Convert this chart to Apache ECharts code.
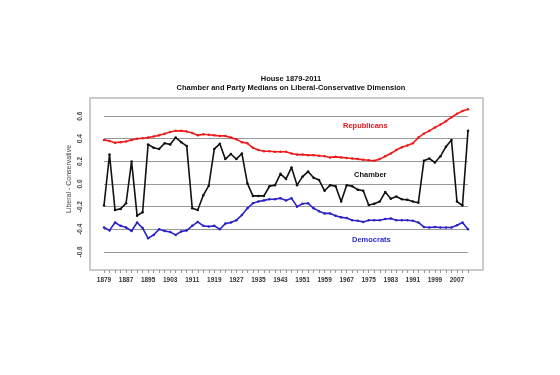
<!DOCTYPE html>
<html>
<head>
<meta charset="utf-8">
<script src="https://cdn.jsdelivr.net/npm/echarts@6/dist/echarts.min.js"></script>
<style>
    html, body { margin: 0; padding: 0; background: #fff; }
    #chart { width: 560px; height: 375px; }
</style>
</head>
<body>
<div id="chart"></div>
<script>
// Congress start years, one per two-year term
const years = []
for (let y = 1879; y <= 2011; y += 2) years.push(String(y))

const yearLabels = ['1879', '1887', '1895', '1903', '1911', '1919', '1927', '1935', '1943',
    '1951', '1959', '1967', '1975', '1983', '1991', '1999', '2007']
const valueTicks = [-0.6, -0.4, -0.2, 0, 0.2, 0.4, 0.6]

const republicans = [
    0.39, 0.38, 0.365, 0.37, 0.375, 0.39, 0.40, 0.405, 0.41, 0.42,
    0.43, 0.445, 0.46, 0.47, 0.47, 0.465, 0.45, 0.43, 0.44, 0.435,
    0.43, 0.425, 0.425, 0.41, 0.395, 0.37, 0.36, 0.32, 0.30, 0.29,
    0.29, 0.285, 0.285, 0.285, 0.27, 0.26, 0.26, 0.255, 0.255, 0.25,
    0.245, 0.235, 0.24, 0.235, 0.23, 0.225, 0.22, 0.215, 0.21, 0.205,
    0.22, 0.245, 0.27, 0.30, 0.325, 0.34, 0.36, 0.41, 0.445, 0.47,
    0.50, 0.525, 0.555, 0.59, 0.62, 0.645, 0.66
]
const chamber = [
    -0.19, 0.26, -0.23, -0.22, -0.17, 0.20, -0.28, -0.25, 0.35, 0.32,
    0.31, 0.36, 0.35, 0.41, 0.37, 0.335, -0.215, -0.23, -0.10, -0.015,
    0.31, 0.355, 0.22, 0.265, 0.22, 0.27, 0.005, -0.105, -0.105, -0.105,
    -0.02, -0.01, 0.09, 0.045, 0.145, -0.01, 0.065, 0.11, 0.055, 0.035,
    -0.06, -0.01, -0.02, -0.155, -0.01, -0.02, -0.05, -0.06, -0.185, -0.175,
    -0.155, -0.07, -0.13, -0.11, -0.135, -0.14, -0.155, -0.165, 0.205, 0.225,
    0.19, 0.245, 0.33, 0.39, -0.155, -0.19, 0.47
]
const democrats = [
    -0.385, -0.41, -0.34, -0.37, -0.385, -0.415, -0.34, -0.39, -0.48, -0.45,
    -0.40, -0.415, -0.425, -0.45, -0.42, -0.41, -0.37, -0.335, -0.37, -0.375,
    -0.37, -0.40, -0.35, -0.34, -0.32, -0.275, -0.215, -0.17, -0.155, -0.145,
    -0.135, -0.135, -0.125, -0.145, -0.125, -0.20, -0.175, -0.17, -0.215, -0.24,
    -0.26, -0.26, -0.28, -0.295, -0.30, -0.32, -0.325, -0.335, -0.32, -0.32,
    -0.32, -0.31, -0.305, -0.32, -0.32, -0.32, -0.325, -0.34, -0.38, -0.385,
    -0.38, -0.385, -0.385, -0.385, -0.365, -0.34, -0.40
]

const font = 'Liberation Sans, Arial, sans-serif'

function line(name, data, color) {
    return {
        name: name,
        type: 'line',
        data: data,
        symbol: 'circle',
        symbolSize: 2.5,
        lineStyle: { color: color, width: 1.6 },
        itemStyle: { color: color },
        silent: true,
    }
}

function yLabel(v) {
    const n = Number(v)
    for (const t of valueTicks) {
        if (Math.abs(t - n) < 1e-6) return t.toFixed(1)
    }
    return ''
}

// axis runs -0.8..0.8, the outer lines (at +-0.8) sit outside the frame, so hide them
const gridColors = ['rgba(0,0,0,0)', '#999', '#999', '#999', '#999', '#999', '#999', '#999', 'rgba(0,0,0,0)']

const chart = echarts.init(document.getElementById('chart'))
chart.setOption({
    backgroundColor: '#fff',
    animation: false,
    textStyle: { fontFamily: font },
    title: {
        text: 'House 1879-2011',
        subtext: 'Chamber and Party Medians on Liberal-Conservative Dimension',
        left: 286,
        top: 70,
        textAlign: 'center',
        itemGap: 1,
        textStyle: { fontSize: 7.5, fontWeight: 'bold', color: '#111', fontFamily: font },
        subtextStyle: { fontSize: 7.5, fontWeight: 'bold', color: '#111', fontFamily: font },
    },
    grid: { left: 104, right: 92, top: 93.5, bottom: 100.5 },
    xAxis: {
        type: 'category',
        data: years,
        boundaryGap: false,
        offset: -4.5,
        axisLine: { show: false, onZero: false },
        axisTick: {
            show: true,
            interval: 0,
            length: 3,
            lineStyle: { color: '#999' },
        },
        axisLabel: {
            interval: (i, v) => yearLabels.includes(v),
            margin: 7,
            fontSize: 6.5,
            fontWeight: 'bold',
            color: '#333',
        },
    },
    yAxis: {
        type: 'value',
        min: -0.8,
        max: 0.8,
        interval: 0.2,
        axisLine: { show: false },
        axisTick: { show: false },
        axisLabel: {
            show: true,
            rotate: 90,
            margin: 20,
            fontSize: 6.5,
            fontWeight: 'bold',
            color: '#444',
            formatter: yLabel,
        },
        splitLine: { lineStyle: { color: gridColors, width: 1 } },
    },
    graphic: [
        {
            type: 'rect',
            shape: { x: 90, y: 98, width: 393, height: 172 },
            style: { fill: null, stroke: '#bbb', lineWidth: 1.5 },
            silent: true,
        },
        {
            type: 'text', x: 69, y: 179, rotation: Math.PI / 2,
            style: {
                text: 'Liberal - Conservative', fill: '#444', font: '7px ' + font,
                align: 'center', verticalAlign: 'middle',
            },
        },
        {
            type: 'text', left: 343, top: 122,
            style: { text: 'Republicans', fill: '#e8151b', font: 'bold 7.5px ' + font },
        },
        {
            type: 'text', left: 354, top: 171,
            style: { text: 'Chamber', fill: '#111', font: 'bold 7.5px ' + font },
        },
        {
            type: 'text', left: 352, top: 236,
            style: { text: 'Democrats', fill: '#2a2acb', font: 'bold 7.5px ' + font },
        },
    ],
    series: [
        line('Republicans', republicans, '#ee1c1c'),
        line('Chamber', chamber, '#111111'),
        line('Democrats', democrats, '#2b22c8'),
    ],
})
</script>
</body>
</html>
